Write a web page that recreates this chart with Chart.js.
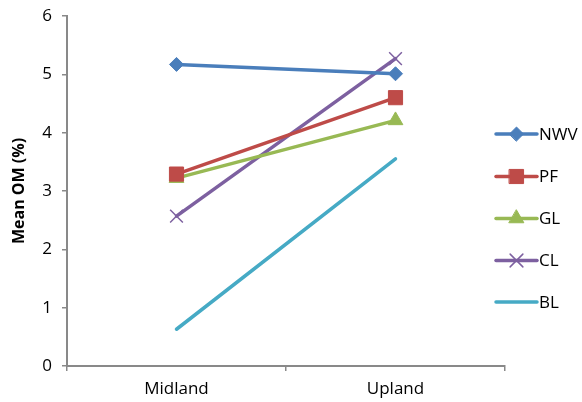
<!DOCTYPE html>
<html>
<head>
<meta charset="utf-8">
<script src="https://cdn.jsdelivr.net/npm/chart.js@4/dist/chart.umd.min.js"></script>
<style>
  html, body { margin: 0; padding: 0; background: #fff; }
  #wrap { width: 582px; height: 402px; position: relative; }
</style>
</head>
<body>
<div id="wrap"><canvas id="c" width="582" height="402"></canvas></div>
<script>
// Sites along the gradient
const categories = ['Midland', 'Upland'];

// Mean organic matter (%) per land-use type
const seriesNames = ['NWV', 'PF', 'GL', 'CL', 'BL'];
const nwv = [5.17, 5.01];
const pf  = [3.29, 4.60];
const gl  = [3.22, 4.21];
const cl  = [2.57, 5.27];
const bl  = [0.63, 3.55];

const yTicks = [0, 1, 2, 3, 4, 5, 6];

const FONT = '"Open Sans", Lato, "DejaVu Sans", sans-serif';
const AXIS_GRAY = '#898989';

const styles = [
  { color: '#4A7EBB', point: 'rectRot', radius: 7 },
  { color: '#BE4B48', point: 'rect', radius: 10 },
  { color: '#98B954', point: 'triangle', radius: 8.5 },
  { color: '#7D60A0', point: 'crossRot', radius: 9 },
  { color: '#46AAC5', point: false, radius: 0 }
];
const values = [nwv, pf, gl, cl, bl];

const datasets = seriesNames.map((name, i) => ({
  label: name,
  data: values[i],
  borderColor: styles[i].color,
  backgroundColor: styles[i].color,
  borderWidth: 3.5,
  pointStyle: styles[i].point,
  pointRadius: styles[i].radius,
  pointHoverRadius: styles[i].radius,
  pointBorderWidth: styles[i].point === 'crossRot' ? 1.5 : 1,
  pointBorderColor: styles[i].color,
  pointBackgroundColor: styles[i].color,
  borderCapStyle: 'round',
  tension: 0,
  fill: false
}));

// Legend on the right: short line with the series marker in the middle
const sideLegend = {
  id: 'sideLegend',
  afterDraw(chart) {
    const ctx = chart.ctx;
    const x0 = 496, x1 = 537;
    const rows = [134, 176.5, 218.5, 260.5, 302];
    chart.data.datasets.forEach((ds, i) => {
      const y = rows[i];
      ctx.save();
      ctx.strokeStyle = ds.borderColor;
      ctx.lineWidth = 3.5;
      ctx.lineCap = 'round';
      ctx.beginPath();
      ctx.moveTo(x0, y);
      ctx.lineTo(x1, y);
      ctx.stroke();
      if (ds.pointStyle) {
        ctx.fillStyle = ds.pointBackgroundColor;
        ctx.strokeStyle = ds.pointBorderColor;
        ctx.lineWidth = ds.pointBorderWidth;
        Chart.helpers.drawPoint(ctx, {
          pointStyle: ds.pointStyle,
          radius: ds.pointRadius,
          borderWidth: ds.pointBorderWidth,
          rotation: 0
        }, (x0 + x1) / 2, y);
      }
      ctx.fillStyle = '#000';
      ctx.font = '17px ' + FONT;
      ctx.textBaseline = 'middle';
      ctx.textAlign = 'left';
      ctx.fillText(ds.label, x1 + 2, y + 1);
      ctx.restore();
    });
  }
};

new Chart(document.getElementById('c'), {
  type: 'line',
  data: { labels: categories, datasets },
  options: {
    responsive: false,
    animation: false,
    devicePixelRatio: 1,
    layout: { padding: { left: 10, right: 77, top: 16, bottom: 0 } },
    plugins: {
      legend: { display: false },
      tooltip: { enabled: false }
    },
    scales: {
      x: {
        type: 'category',
        offset: true,
        grid: {
          display: true,
          offset: true,
          drawOnChartArea: false,
          drawTicks: true,
          tickLength: 5,
          color: AXIS_GRAY,
          lineWidth: 1.5
        },
        border: { display: true, color: AXIS_GRAY, width: 2 },
        ticks: {
          color: '#000',
          font: { family: FONT, size: 17 },
          padding: 8,
          maxRotation: 0
        },
        afterFit(scale) {
          scale.height = 36;
          scale.paddingLeft = 0;
          scale.paddingRight = 0;
        }
      },
      y: {
        min: 0,
        max: 6,
        afterBuildTicks(scale) { scale.ticks = yTicks.map(v => ({ value: v })); },
        grid: {
          display: true,
          drawOnChartArea: false,
          drawTicks: true,
          tickLength: 5,
          color: AXIS_GRAY,
          lineWidth: 1.5
        },
        border: { display: true, color: AXIS_GRAY, width: 2 },
        ticks: {
          color: '#000',
          font: { family: FONT, size: 17 },
          padding: 10
        },
        title: {
          display: true,
          text: 'Mean OM (%)',
          color: '#000',
          font: { family: FONT, size: 16, weight: 'bold' },
          padding: { top: 0, bottom: 2 }
        },
        afterFit(scale) {
          scale.width = 57;
          scale.paddingTop = 0;
          scale.paddingBottom = 0;
        }
      }
    }
  },
  plugins: [sideLegend]
});
</script>
</body>
</html>
